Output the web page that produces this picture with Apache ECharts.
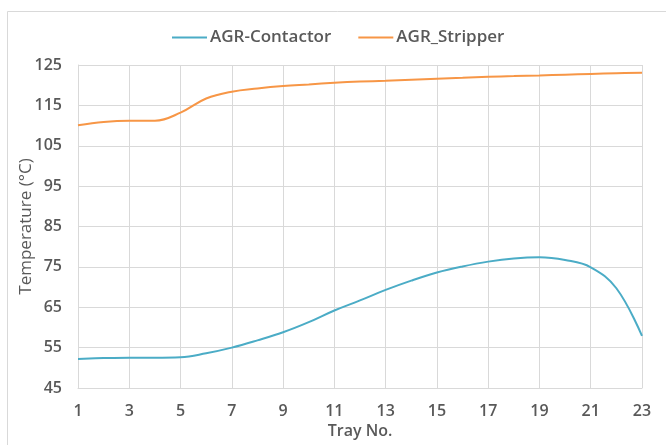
<!DOCTYPE html>
<html><head><meta charset="utf-8">
<script src="https://cdn.jsdelivr.net/npm/echarts@6/dist/echarts.min.js"></script>
<style>html,body{margin:0;padding:0;background:#fff}#c{width:666px;height:445px}</style>
</head><body><div id="c"></div>
<script>
const trays = ['1','2','3','4','5','6','7','8','9','10','11','12','13','14','15','16','17','18','19','20','21','22','23'];
const contactor = [52.2, 52.4, 52.5, 52.5, 52.6, 53.6, 55.0, 56.8, 58.8, 61.3, 64.2, 66.7, 69.3, 71.6, 73.6, 75.1, 76.3, 77.1, 77.4, 76.7, 74.9, 69.7, 57.9];
const stripper = [110.1, 110.9, 111.2, 111.2, 113.2, 116.7, 118.4, 119.2, 119.8, 120.2, 120.6, 120.9, 121.1, 121.35, 121.6, 121.85, 122.1, 122.25, 122.4, 122.6, 122.8, 122.95, 123.1];
const yMin = 45, yMax = 125, yStep = 10;

const font = '"Open Sans", "DejaVu Sans", sans-serif';
const txt = '#595959';
const chart = echarts.init(document.getElementById('c'), null, {renderer: 'canvas'});
chart.setOption({
  animation: false,
  backgroundColor: '#fff',
  graphic: [{
    type: 'rect', shape: {x: 7.5, y: 11.5, width: 700, height: 500},
    style: {fill: 'none', stroke: '#d9d9d9', lineWidth: 1}, silent: true
  }],
  legend: {
    left: 172, top: 29, padding: 0, itemWidth: 35, itemHeight: 2, itemGap: 27,
    icon: 'rect',
    textStyle: {fontFamily: font, fontSize: 17, fontWeight: 600, color: txt, padding: [0, 0, 0, -2]},
    data: ['AGR-Contactor', 'AGR_Stripper']
  },
  grid: {left: 78, right: 24, top: 65, bottom: 57, containLabel: false},
  xAxis: {
    type: 'category', data: trays, boundaryGap: false,
    name: 'Tray No.', nameLocation: 'middle', nameGap: 33,
    nameTextStyle: {fontFamily: font, fontSize: 16, fontWeight: 600, color: txt},
    axisLine: {lineStyle: {color: '#d9d9d9'}},
    axisTick: {show: false},
    axisLabel: {interval: 1, margin: 15, fontFamily: font, fontSize: 16, fontWeight: 600, color: txt},
    splitLine: {show: true, interval: 1, lineStyle: {color: '#d9d9d9'}}
  },
  yAxis: {
    type: 'value', min: yMin, max: yMax, interval: yStep,
    name: 'Temperature (°C)', nameLocation: 'middle', nameGap: 43, nameMoveOverlap: false,
    nameTextStyle: {fontFamily: font, fontSize: 17, fontWeight: 'normal', color: txt},
    axisLine: {show: true, lineStyle: {color: '#d9d9d9'}},
    axisTick: {show: false},
    axisLabel: {margin: 16, fontFamily: font, fontSize: 16, fontWeight: 600, color: txt},
    splitLine: {show: true, lineStyle: {color: '#d9d9d9'}}
  },
  series: [
    {name: 'AGR-Contactor', type: 'line', data: contactor, smooth: 0.4, showSymbol: false,
     lineStyle: {width: 2, color: '#4bacc6'}, itemStyle: {color: '#4bacc6'}},
    {name: 'AGR_Stripper', type: 'line', data: stripper, smooth: 0.4, showSymbol: false,
     lineStyle: {width: 2, color: '#f79646'}, itemStyle: {color: '#f79646'}}
  ]
});
</script></body></html>
